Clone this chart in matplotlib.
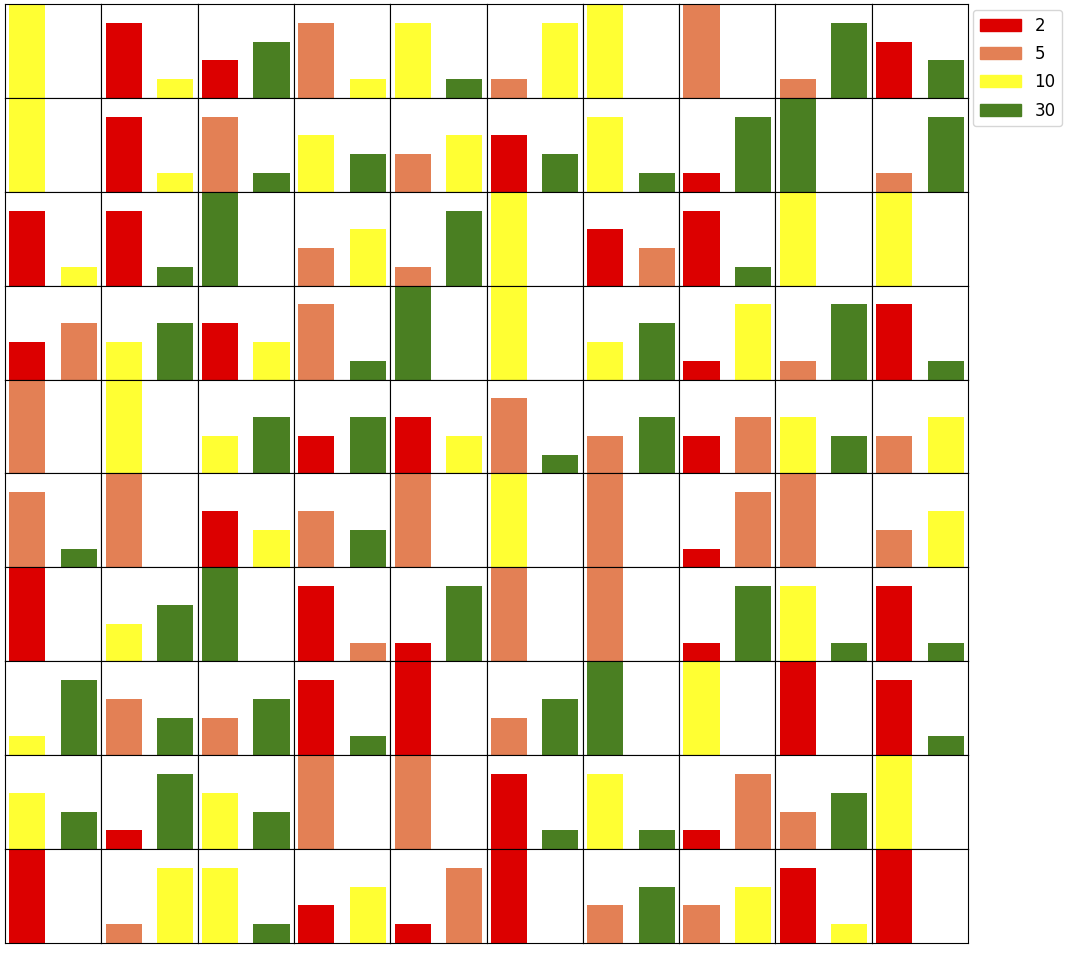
import matplotlib
matplotlib.use("Agg")
import matplotlib.pyplot as plt
from matplotlib.patches import Patch

# categories and their colours
categories = ["2", "5", "10", "30"]
colours = {"2": "#dc0000", "5": "#e38055", "10": "#ffff33", "30": "#4a7f22"}

# each cell: (first bar category, height), (second bar category, height)
# rows top -> bottom, cells left -> right; "" means no second bar
cells = [
    [("10", 5, "", 0), ("2", 4, "10", 1), ("2", 2, "30", 3), ("5", 4, "10", 1), ("10", 4, "30", 1),
     ("5", 1, "10", 4), ("10", 5, "", 0), ("5", 5, "", 0), ("5", 1, "30", 4), ("2", 3, "30", 2)],
    [("10", 5, "", 0), ("2", 4, "10", 1), ("5", 4, "30", 1), ("10", 3, "30", 2), ("5", 2, "10", 3),
     ("2", 3, "30", 2), ("10", 4, "30", 1), ("2", 1, "30", 4), ("30", 5, "", 0), ("5", 1, "30", 4)],
    [("2", 4, "10", 1), ("2", 4, "30", 1), ("30", 5, "", 0), ("5", 2, "10", 3), ("5", 1, "30", 4),
     ("10", 5, "", 0), ("2", 3, "5", 2), ("2", 4, "30", 1), ("10", 5, "", 0), ("10", 5, "", 0)],
    [("2", 2, "5", 3), ("10", 2, "30", 3), ("2", 3, "10", 2), ("5", 4, "30", 1), ("30", 5, "", 0),
     ("10", 5, "", 0), ("10", 2, "30", 3), ("2", 1, "10", 4), ("5", 1, "30", 4), ("2", 4, "30", 1)],
    [("5", 5, "", 0), ("10", 5, "", 0), ("10", 2, "30", 3), ("2", 2, "30", 3), ("2", 3, "10", 2),
     ("5", 4, "30", 1), ("5", 2, "30", 3), ("2", 2, "5", 3), ("10", 3, "30", 2), ("5", 2, "10", 3)],
    [("5", 4, "30", 1), ("5", 5, "", 0), ("2", 3, "10", 2), ("5", 3, "30", 2), ("5", 5, "", 0),
     ("10", 5, "", 0), ("5", 5, "", 0), ("2", 1, "5", 4), ("5", 5, "", 0), ("5", 2, "10", 3)],
    [("2", 5, "", 0), ("10", 2, "30", 3), ("30", 5, "", 0), ("2", 4, "5", 1), ("2", 1, "30", 4),
     ("5", 5, "", 0), ("5", 5, "", 0), ("2", 1, "30", 4), ("10", 4, "30", 1), ("2", 4, "30", 1)],
    [("10", 1, "30", 4), ("5", 3, "30", 2), ("5", 2, "30", 3), ("2", 4, "30", 1), ("2", 5, "", 0),
     ("5", 2, "30", 3), ("30", 5, "", 0), ("10", 5, "", 0), ("2", 5, "", 0), ("2", 4, "30", 1)],
    [("10", 3, "30", 2), ("2", 1, "30", 4), ("10", 3, "30", 2), ("5", 5, "", 0), ("5", 5, "", 0),
     ("2", 4, "30", 1), ("10", 4, "30", 1), ("2", 1, "5", 4), ("5", 2, "30", 3), ("10", 5, "", 0)],
    [("2", 5, "", 0), ("5", 1, "10", 4), ("10", 4, "30", 1), ("2", 2, "10", 3), ("2", 1, "5", 4),
     ("2", 5, "", 0), ("5", 2, "30", 3), ("5", 2, "10", 3), ("2", 4, "10", 1), ("2", 5, "", 0)],
]

W, H = 1069, 955
fig, axes = plt.subplots(10, 10, figsize=(W / 100, H / 100), dpi=100)
fig.subplots_adjust(left=5 / W, right=968 / W, top=1 - 4 / H, bottom=1 - 943 / H,
                    wspace=0, hspace=0)

for r, row in enumerate(cells):
    for c, (c1, h1, c2, h2) in enumerate(row):
        ax = axes[r, c]
        ax.bar([0, 1], [h1, h2], width=0.7,
               color=[colours[c1], colours.get(c2, "white")])
        ax.set_ylim(0, 5)
        ax.set_xticks([])
        ax.set_yticks([])
        for sp in ax.spines.values():
            sp.set_linewidth(0.8)

handles = [Patch(color=colours[k], label=k) for k in categories]
fig.legend(handles=handles, loc="upper left", handlelength=2.5, labelspacing=0.62,
           bbox_to_anchor=(964.5 / W, 1 - 1.5 / H), fontsize=12)

fig.savefig("out.png", dpi=100, facecolor="white")
